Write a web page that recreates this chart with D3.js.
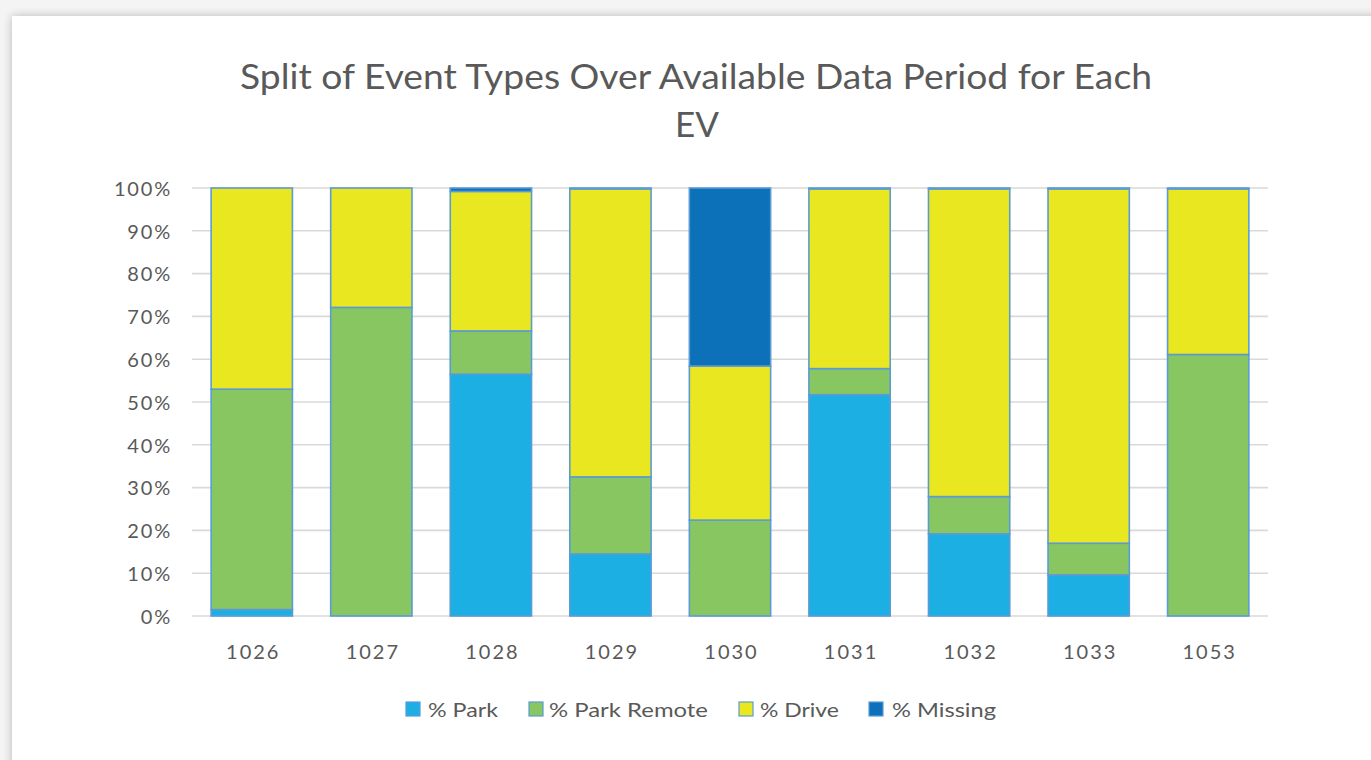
<!DOCTYPE html>
<html>
<head>
<meta charset="utf-8">
<script src="https://cdn.jsdelivr.net/npm/d3@7"></script>
<style>
  html, body { margin: 0; padding: 0; background: #f2f2f2; }
  svg { display: block; }
</style>
</head>
<body>
<svg id="chart" width="1371" height="760"></svg>
<script>
// Vehicle IDs and the share (%) of each event type per vehicle
const vehicles = ["1026", "1027", "1028", "1029", "1030", "1031", "1032", "1033", "1053"];
const parkPct        = [1.5, 0, 56.5, 14.5, 0, 51.7, 19.2, 9.6, 0];
const parkRemotePct  = [51.5, 72.1, 10.1, 18.0, 22.4, 6.1, 8.7, 7.4, 61.1];
const drivePct       = [47.0, 27.9, 32.6, 67.3, 36.0, 42.0, 71.9, 82.8, 38.7];
const missingPct     = [0, 0, 0.8, 0.2, 41.6, 0.2, 0.2, 0.2, 0.2];
const seriesNames    = ["% Park", "% Park Remote", "% Drive", "% Missing"];
const yTicks         = [0, 10, 20, 30, 40, 50, 60, 70, 80, 90, 100];

const colors = ["#1cafe4", "#88c661", "#e9e71f", "#0c71b8"];
const strokeColor = "#5b9bd5";
const textColor = "#595959";
const font = "Lato, 'Open Sans', 'DejaVu Sans', sans-serif";

const svg = d3.select("#chart");

// soft shadow behind the white card
const defs = svg.append("defs");
const f = defs.append("filter").attr("id", "cardShadow")
  .attr("x", "-5%").attr("y", "-5%").attr("width", "110%").attr("height", "110%");
f.append("feGaussianBlur").attr("in", "SourceAlpha").attr("stdDeviation", 5);
f.append("feComponentTransfer").append("feFuncA").attr("type", "linear").attr("slope", 0.25);
const fm = f.append("feMerge");
fm.append("feMergeNode");
fm.append("feMergeNode").attr("in", "SourceGraphic");

svg.append("rect").attr("x", 0).attr("y", 0).attr("width", 1371).attr("height", 760).attr("fill", "#f4f4f4");
svg.append("rect").attr("x", 12).attr("y", 16).attr("width", 1400).attr("height", 800)
  .attr("fill", "#ffffff").attr("filter", "url(#cardShadow)");

// stacked rows
const rows = vehicles.map((v, i) => ({
  vehicle: v,
  "% Park": parkPct[i],
  "% Park Remote": parkRemotePct[i],
  "% Drive": drivePct[i],
  "% Missing": missingPct[i]
}));
const stacked = d3.stack().keys(seriesNames)(rows);

const plot = { left: 192, right: 1268, top: 188, bottom: 616 };

const x = d3.scaleBand().domain(vehicles).range([plot.left, plot.right]).paddingInner(0.32).paddingOuter(0.16);
const y = d3.scaleLinear().domain([0, 100]).range([plot.bottom, plot.top]);
const color = d3.scaleOrdinal().domain(seriesNames).range(colors);

// horizontal gridlines
svg.append("g")
  .selectAll("line").data(yTicks).join("line")
  .attr("x1", plot.left).attr("x2", plot.right)
  .attr("y1", d => y(d)).attr("y2", d => y(d))
  .attr("stroke", "#d9d9d9").attr("stroke-width", 1.6);

// y axis labels
const yAxis = d3.axisLeft(y).tickValues(yTicks).tickFormat(d => d + "%").tickSize(0).tickPadding(0);
const yg = svg.append("g").attr("transform", `translate(${plot.left - 20},0)`).call(yAxis);
yg.select(".domain").remove();
yg.selectAll("text").attr("fill", textColor).attr("font-family", font).attr("font-size", 20)
  .attr("letter-spacing", 1.8).attr("dy", "0.36em");

// x axis labels
const xAxis = d3.axisBottom(x).tickSize(0).tickPadding(0);
const xg = svg.append("g").attr("transform", `translate(1.5,${plot.bottom + 29})`).call(xAxis);
xg.select(".domain").remove();
xg.selectAll("text").attr("fill", textColor).attr("font-family", font).attr("font-size", 20)
  .attr("dy", "0.71em").attr("letter-spacing", 2);

// bars
svg.append("g")
  .selectAll("g").data(stacked).join("g")
  .attr("fill", d => color(d.key))
  .selectAll("rect").data(d => d.filter(s => s[1] - s[0] > 0)).join("rect")
  .attr("x", d => x(d.data.vehicle))
  .attr("width", x.bandwidth())
  .attr("y", d => y(d[1]))
  .attr("height", d => y(d[0]) - y(d[1]))
  .attr("stroke", strokeColor).attr("stroke-width", 1.6);

// title
const title = svg.append("text").attr("text-anchor", "middle").attr("fill", textColor)
  .attr("font-family", font).attr("font-size", 35);
title.append("tspan").attr("x", 696).attr("y", 89).text("Split of Event Types Over Available Data Period for Each")
  .attr("textLength", 912).attr("lengthAdjust", "spacingAndGlyphs");
title.append("tspan").attr("x", 697).attr("y", 137).text("EV");

// legend
const legendItems = [
  { name: "% Park", sx: 406, tx: 428, tw: 70 },
  { name: "% Park Remote", sx: 529, tx: 549, tw: 159 },
  { name: "% Drive", sx: 739, tx: 760, tw: 79 },
  { name: "% Missing", sx: 869, tx: 892, tw: 104 }
];
const lg = svg.append("g");
lg.selectAll("rect").data(legendItems).join("rect")
  .attr("x", d => d.sx).attr("y", 702).attr("width", 14).attr("height", 14)
  .attr("fill", d => color(d.name)).attr("stroke", strokeColor).attr("stroke-width", 1.2);
lg.selectAll("text").data(legendItems).join("text")
  .attr("x", d => d.tx).attr("y", 717)
  .attr("fill", textColor).attr("font-family", font).attr("font-size", 20)
  .attr("textLength", d => d.tw).attr("lengthAdjust", "spacingAndGlyphs")
  .text(d => d.name);
</script>
</body>
</html>
